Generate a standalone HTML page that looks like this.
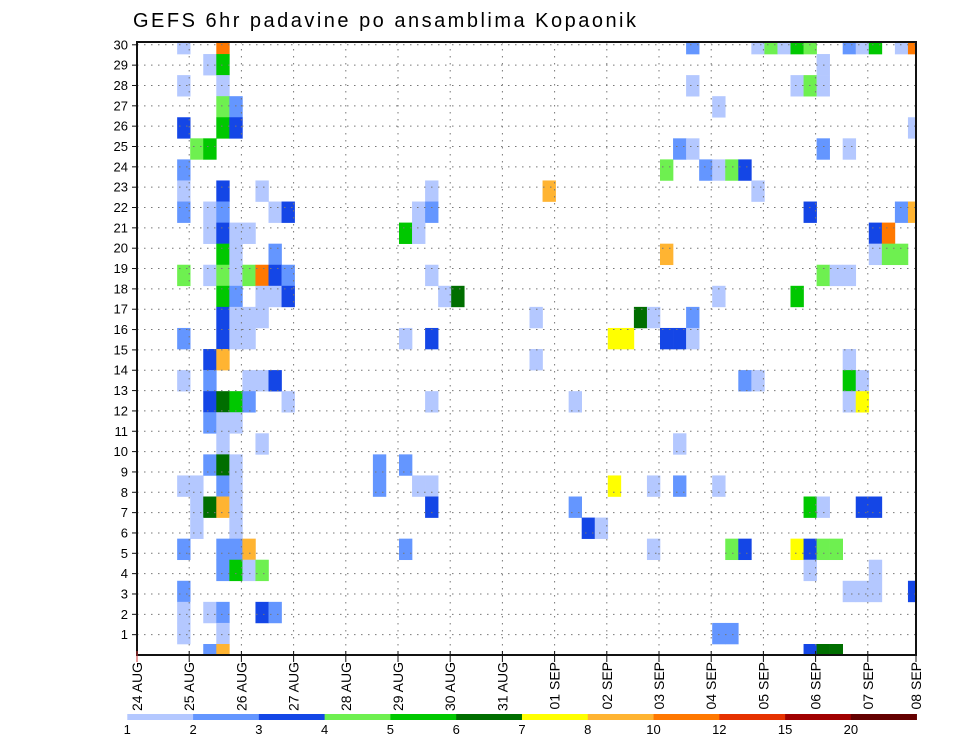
<!DOCTYPE html>
<html><head><meta charset="utf-8"><title>GEFS 6hr padavine</title>
<style>
html,body{margin:0;padding:0;background:#fff;}
svg{display:block;font-family:"Liberation Sans",sans-serif;}
</style></head>
<body>
<svg id="chart" xmlns="http://www.w3.org/2000/svg" width="960" height="742" viewBox="0 0 960 742">
<rect x="0" y="0" width="960" height="742" fill="#fff"/>
<text x="133" y="27" font-size="20" textLength="503" lengthAdjust="spacing" fill="#000">GEFS 6hr padavine po ansamblima Kopaonik</text>
<defs><clipPath id="plotclip"><rect x="137" y="42" width="779" height="613"/></clipPath></defs>
<g id="cells" clip-path="url(#plotclip)"></g>
<g id="grid"></g>
<rect x="137" y="42" width="779" height="613" fill="none" stroke="#111" stroke-width="2"/>
<g id="yaxis"></g>
<g id="xaxis"></g>
<g id="legend"></g>
</svg>
<script>
// ---- data ----
const dayLabels = ["24 AUG","25 AUG","26 AUG","27 AUG","28 AUG","29 AUG","30 AUG","31 AUG","01 SEP","02 SEP","03 SEP","04 SEP","05 SEP","06 SEP","07 SEP","08 SEP"];
const memberTicks = [1,2,3,4,5,6,7,8,9,10,11,12,13,14,15,16,17,18,19,20,21,22,23,24,25,26,27,28,29,30];
const legendLevels = [1,2,3,4,5,6,7,8,10,12,15,20];
const legendColors = ["#b4c8ff","#6496ff","#1446e6","#6ef050","#00c800","#006e00","#ffff00","#ffb432","#ff7800","#e63200","#a00000","#640000"];
// cells: time step (6h index), member row index, precipitation (mm)
const cellStep = [3,6,42,47,48,49,50,51,54,55,56,58,59, 5,6,52, 3,6,42,50,51,52, 6,7,44, 3,6,7,59, 4,5,41,42,52,54, 3,40,43,44,45,46, 3,6,9,22,31,47, 3,5,6,10,11,21,22,51,58,59, 5,6,7,8,20,21,56,57, 6,7,10,40,56,57,58, 3,5,6,7,8,9,10,11,22,52,53,54, 6,7,9,10,11,23,24,44,50, 6,7,8,9,30,38,39,42, 3,6,7,8,20,22,36,37,40,41,42, 5,6,30,54, 3,5,8,9,10,46,47,54,55, 5,6,7,8,11,22,33,54,55, 5,6,7, 6,9,41, 5,6,7,18,20, 3,4,6,7,18,21,22,36,39,41,44, 4,5,6,7,22,33,51,52,55,56, 4,7,34,35, 3,6,7,8,20,39,45,46,50,51,52,53, 6,7,8,9,51,56, 3,54,55,56,59, 3,5,6,9,10, 3,6,44,45, 5,6,51,52,53];
const cellMember = [29,29,29,29,29,29,29,29,29,29,29,29,29, 28,28,28, 27,27,27,27,27,27, 26,26,26, 25,25,25,25, 24,24,24,24,24,24, 23,23,23,23,23,23, 22,22,22,22,22,22, 21,21,21,21,21,21,21,21,21,21, 20,20,20,20,20,20,20,20, 19,19,19,19,19,19,19, 18,18,18,18,18,18,18,18,18,18,18,18, 17,17,17,17,17,17,17,17,17, 16,16,16,16,16,16,16,16, 15,15,15,15,15,15,15,15,15,15,15, 14,14,14,14, 13,13,13,13,13,13,13,13,13, 12,12,12,12,12,12,12,12,12, 11,11,11, 10,10,10, 9,9,9,9,9, 8,8,8,8,8,8,8,8,8,8,8, 7,7,7,7,7,7,7,7,7,7, 6,6,6,6, 5,5,5,5,5,5,5,5,5,5,5,5, 4,4,4,4,4,4, 3,3,3,3,3, 2,2,2,2,2, 1,1,1,1, 0,0,0,0,0];
const cellPrecip = [1.5,11,2.5,1.5,4.5,1.5,5.5,4.5,2.5,1.5,5.5,1.5,11, 1.5,5.5,1.5, 1.5,1.5,1.5,1.5,4.5,1.5, 4.5,2.5,1.5, 3.5,5.5,3.5,1.5, 4.5,5.5,2.5,1.5,2.5,1.5, 2.5,4.5,2.5,1.5,4.5,3.5, 1.5,3.5,1.5,1.5,9,1.5, 2.5,1.5,2.5,1.5,3.5,1.5,2.5,3.5,2.5,9, 1.5,3.5,1.5,1.5,5.5,1.5,3.5,11, 5.5,1.5,2.5,9,1.5,4.5,4.5, 4.5,1.5,4.5,1.5,4.5,11,3.5,2.5,1.5,4.5,1.5,1.5, 5.5,2.5,1.5,1.5,3.5,1.5,6.5,1.5,5.5, 3.5,1.5,1.5,1.5,1.5,6.5,1.5,2.5, 2.5,3.5,1.5,1.5,1.5,3.5,7.5,7.5,3.5,3.5,1.5, 3.5,9,1.5,1.5, 1.5,2.5,1.5,1.5,3.5,2.5,1.5,5.5,1.5, 3.5,6.5,5.5,2.5,1.5,1.5,1.5,1.5,7.5, 2.5,1.5,1.5, 1.5,1.5,1.5, 2.5,6.5,1.5,2.5,2.5, 1.5,1.5,2.5,1.5,2.5,1.5,1.5,7.5,1.5,2.5,1.5, 1.5,6.5,9,1.5,3.5,2.5,5.5,1.5,3.5,3.5, 1.5,1.5,3.5,1.5, 2.5,2.5,2.5,9,2.5,1.5,4.5,3.5,7.5,3.5,4.5,4.5, 2.5,5.5,1.5,4.5,1.5,1.5, 2.5,1.5,1.5,1.5,3.5, 1.5,1.5,2.5,3.5,2.5, 1.5,1.5,2.5,2.5, 2.5,9,3.5,6.5,6.5];

// ---- axes ----
const NS = "http://www.w3.org/2000/svg";
const PX0 = 138, STEP_W = 13.05, DAY_W = 52.2;
const PLOT_L = 137, PLOT_R = 916, PLOT_T = 42, PLOT_B = 655;
function xStep(c){ return PX0 + STEP_W * c; }
function xDay(d){ return PX0 - 1 + DAY_W * d; }
function yCell(i){ return 644 - 21.07 * i; }
function yTick(r){ return 655 - 20.34 * r; }
function colorFor(v){
  let k = 0;
  for (let j = 0; j < legendLevels.length; j++) if (v >= legendLevels[j]) k = j;
  return legendColors[k];
}
function mk(tag, attrs, parent){
  const e = document.createElementNS(NS, tag);
  for (const k in attrs) e.setAttribute(k, attrs[k]);
  parent.appendChild(e);
  return e;
}

const gCells = document.getElementById('cells');
for (let n = 0; n < cellStep.length; n++) {
  const r = mk('rect', {x: xStep(cellStep[n]), y: yCell(cellMember[n]), width: STEP_W + 0.3, height: 21.37, fill: colorFor(cellPrecip[n])}, gCells);
  
  
}

const gGrid = document.getElementById('grid');
memberTicks.forEach(function(m){
  const l = mk('line', {x1: PLOT_L, x2: PLOT_R, y1: yTick(m), y2: yTick(m), stroke: '#777', 'stroke-width': 1, 'stroke-dasharray': '1.5,5.5'}, gGrid);
  
  
});
dayLabels.forEach(function(d, i){
  if (i === 0 || i === dayLabels.length - 1) return;
  const l = mk('line', {x1: xDay(i), x2: xDay(i), y1: PLOT_T, y2: PLOT_B, stroke: '#777', 'stroke-width': 1, 'stroke-dasharray': '1.5,5.5'}, gGrid);
  
  
});

const gY = document.getElementById('yaxis');
memberTicks.forEach(function(m){
  const t = mk('line', {x1: PLOT_L - 5, x2: PLOT_L, y1: yTick(m), y2: yTick(m), stroke: '#111', 'stroke-width': 1}, gY);
  
  
  const tx = mk('text', {x: 128, y: yTick(m) + 4.5, 'font-size': 13, 'text-anchor': 'end', fill: '#000'}, gY);
  tx.textContent = m;
  
  
});

const gX = document.getElementById('xaxis');
dayLabels.forEach(function(d, i){
  const x = i === dayLabels.length - 1 ? PLOT_R : xDay(i);
  const t = mk('line', {x1: x, x2: x, y1: PLOT_B - 4, y2: PLOT_B + 7, stroke: i === 0 ? '#c33' : '#111', 'stroke-width': 1}, gX);
  
  
  const tx = mk('text', {x: 0, y: 0, 'font-size': 14, 'text-anchor': 'end', fill: '#000', transform: 'translate(' + (x + 5) + ',662) rotate(-90)'}, gX);
  tx.textContent = d;
  
  
});

const gL = document.getElementById('legend');
const LX0 = 127.3, LW = 65.78;
legendColors.forEach(function(c, j){
  const r = mk('rect', {x: LX0 + LW * j, y: 714, width: LW + 0.3, height: 6, fill: c}, gL);
  
  
});
legendLevels.forEach(function(v, j){
  const tx = mk('text', {x: LX0 + LW * j, y: 734, 'font-size': 13, 'text-anchor': 'middle', fill: '#000'}, gL);
  tx.textContent = v;
  
  
});
</script>
</body></html>
